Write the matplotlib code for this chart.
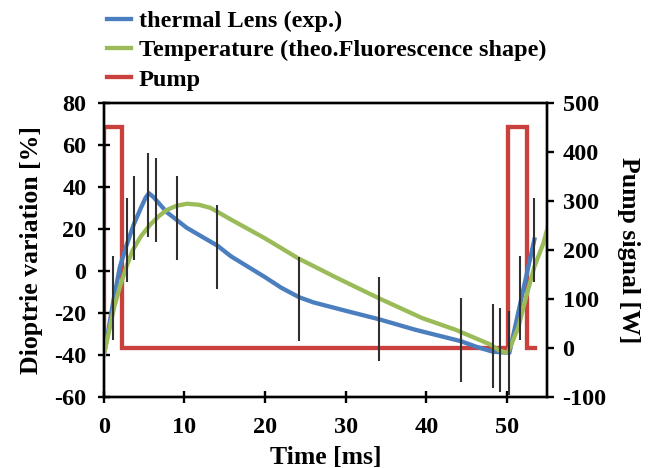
import matplotlib
matplotlib.use('Agg')
import matplotlib.pyplot as plt
from matplotlib.lines import Line2D

plt.rcParams['font.family'] = 'Liberation Serif'
plt.rcParams['font.weight'] = 'bold'
plt.rcParams['axes.unicode_minus'] = False

# thermal lens (experiment) [%]
lens_t = [0, 0.4, 0.8, 1.2, 2, 2.8, 3.7, 4.6, 5.2, 5.6, 6.2, 7.8, 10.3,
          14.1, 15.75, 20, 22, 24.2, 26, 30, 34.1, 38.6, 44.3, 46.1, 48.25,
          50.3, 53.4]
lens_v = [-40, -32, -23, -14, 2, 12, 22, 30, 35, 37, 35, 28, 20.5,
          12, 7, -3, -8, -12.5, -15, -19, -23, -28, -33.5, -36, -38.5,
          -39, 15]

# error bars on the measurement
err_t = [1.2, 2.9, 3.75, 5.5, 6.5, 9.1, 14.1, 24.2, 34.1, 44.3, 48.25, 49.1,
         50.25, 51.6, 53.4]
err_c = [-12.7, 14.5, 25, 36, 34, 25, 11.5, -13.5, -23, -33, -36, -37.5,
         -39, -12.7, 14.5]
err_half = 20

# temperature (theory, fluorescence shape) [%]
temp_t = [0, 0.4, 0.75, 1.3, 2, 2.8, 3.6, 4.6, 5.75, 6.8, 7.8, 9, 10.3,
          11.8, 13.25, 15.75, 20, 24.1, 29, 34.1, 39.5, 43.6, 47.9, 49.1,
          50.1, 51.4, 52.4, 53.4, 54.5, 55]
temp_v = [-40, -33, -27, -17, -7.5, 2, 10, 16.5, 22, 26, 29, 31, 32,
          31.5, 30, 24.5, 15.5, 6, -3.5, -13, -22.5, -28, -35, -38,
          -39, -27, -12, 2, 13, 20]

# pump signal [W]
pump_t = [0, 0, 2.3, 2.3, 50.1, 50.1, 52.5, 52.5, 53.5]
pump_w = [0, 450, 450, 0, 0, 450, 450, 0, 0]

c_blue = '#4A7EBF'
c_green = '#9BBB59'
c_red = '#C9403D'
lw = 3.1

fig = plt.figure(figsize=(6.57, 4.68), dpi=100)
ax = fig.add_axes([0.158, 0.152, 0.675, 0.628])
ax2 = ax.twinx()
ax.set_zorder(ax2.get_zorder() + 1)
ax.patch.set_visible(False)

ax2.plot(pump_t, pump_w, color=c_red, lw=lw, solid_joinstyle='miter')
ax.plot(lens_t, lens_v, color=c_blue, lw=lw)
ax.plot(temp_t, temp_v, color=c_green, lw=lw)
ax.vlines(err_t, [c - err_half for c in err_c], [c + err_half for c in err_c],
          color='#303030', lw=1.5, zorder=4)

ax.set_xlim(0, 55)
ax.set_ylim(-60, 80)
ax2.set_ylim(-100, 500)
ax.set_xticks(range(0, 51, 10))
ax.set_yticks(range(-60, 81, 20))
ax2.set_yticks(range(-100, 501, 100))

for a in (ax, ax2):
    for s in a.spines.values():
        s.set_linewidth(1.7)
ax.tick_params(axis='both', direction='inout', length=9, width=1.7,
               labelsize=17.5)
ax.tick_params(axis='y', pad=8)
ax.tick_params(axis='x', pad=10)
ax2.tick_params(axis='y', direction='out', length=5, width=1.7,
                labelsize=17.5, pad=6)

ax.set_xlabel('Time [ms]', fontsize=18.5, fontweight='bold', labelpad=6)
ax.set_ylabel('Dioptrie variation [%]', fontsize=18.5, fontweight='bold',
              labelpad=8)
ax2.set_ylabel('Pump signal [W]', fontsize=18.5, fontweight='bold',
               rotation=270, labelpad=24)

handles = [Line2D([], [], color=c_blue, lw=lw),
           Line2D([], [], color=c_green, lw=lw),
           Line2D([], [], color=c_red, lw=lw)]
labels = ['thermal Lens (exp.)', 'Temperature (theo.Fluorescence shape)', 'Pump']
fig.legend(handles, labels, loc='upper left', bbox_to_anchor=(0.137, 1.015),
           frameon=False, fontsize=17.5, handlelength=1.0, handletextpad=0.3,
           labelspacing=0.3, borderpad=0.2)

fig.savefig('out.png', dpi=100)
